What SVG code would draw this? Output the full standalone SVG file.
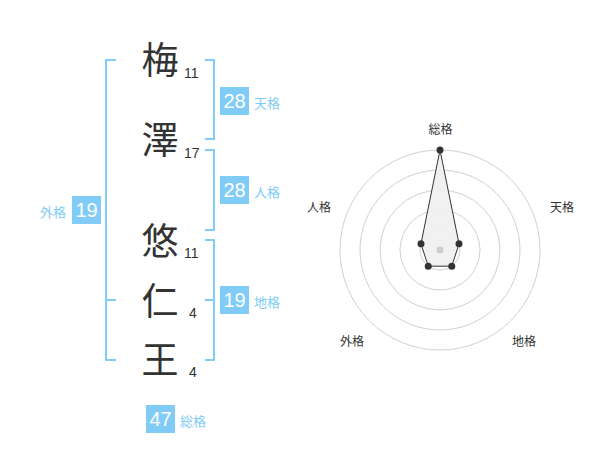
<svg xmlns="http://www.w3.org/2000/svg" width="600" height="470" viewBox="0 0 600 470">
<style>
.kanji{font-family:"Noto Sans CJK JP","Noto Sans CJK SC",sans-serif;font-size:37px;fill:#333;text-anchor:middle}
.num{font-family:"Liberation Sans",Arial,sans-serif;font-size:14px;fill:#333}
.br{fill:none;stroke:#80ccf7;stroke-width:2}
.box{fill:#80ccf7}
.bv{font-family:"Liberation Sans",Arial,sans-serif;font-size:20px;fill:#fff;text-anchor:middle}
.bl{font-family:"Noto Sans CJK JP",sans-serif;font-size:13px;fill:#80ccf7}
.grid{fill:none;stroke:#d0d0d0;stroke-width:1}
.rl{font-family:"Noto Sans CJK JP",sans-serif;font-size:12px;fill:#333;text-anchor:middle}
.dot{fill:#333}
</style>
<g id="connectors">
<path class="br" d="M116,60 H106 V360 H116 M106,300 H116"/>
<path class="br" d="M205,60 H214 V139 H205"/>
<path class="br" d="M205,150 H214 V230 H205"/>
<path class="br" d="M205,240 H214 V360 H205 M205,300 H214"/>
</g>
<g id="char1"><text class="kanji" x="160" y="74">梅</text><text class="num" x="184" y="78">11</text></g>
<g id="char2"><text class="kanji" x="160" y="154">澤</text><text class="num" x="184" y="158">17</text></g>
<g id="char3"><text class="kanji" x="160" y="255">悠</text><text class="num" x="184" y="258">11</text></g>
<g id="char4"><text class="kanji" x="160" y="315">仁</text><text class="num" x="189" y="318">4</text></g>
<g id="char5"><text class="kanji" x="160" y="374">王</text><text class="num" x="189" y="377">4</text></g>
<g id="tenkaku"><rect class="box" x="220" y="87" width="29" height="28"/><text class="bv" x="234.5" y="108">28</text><text class="bl" x="254" y="108">天格</text></g>
<g id="jinkaku"><rect class="box" x="220" y="176" width="29" height="28"/><text class="bv" x="234.5" y="197">28</text><text class="bl" x="254" y="197">人格</text></g>
<g id="chikaku"><rect class="box" x="220" y="286" width="29" height="28"/><text class="bv" x="234.5" y="307">19</text><text class="bl" x="254" y="307">地格</text></g>
<g id="gaikaku"><rect class="box" x="72" y="196" width="29" height="28"/><text class="bv" x="86.5" y="217">19</text><text class="bl" x="40" y="217">外格</text></g>
<g id="sokaku"><rect class="box" x="146" y="405" width="29" height="28"/><text class="bv" x="160.5" y="426">47</text><text class="bl" x="180" y="426">総格</text></g>
<g id="radar">
<circle class="grid" cx="440" cy="250" r="100"/>
<circle class="grid" cx="440" cy="250" r="80"/>
<circle class="grid" cx="440" cy="250" r="60"/>
<circle class="grid" cx="440" cy="250" r="40"/>
<circle class="grid" cx="440" cy="250" r="20"/>
<polygon points="440,150 459.02,243.82 451.76,266.18 428.24,266.18 420.98,243.82" fill="#efefef" fill-opacity="0.9" stroke="#333" stroke-width="1"/>
<circle cx="440" cy="250" r="3.5" fill="#ccc"/>
<circle class="dot" cx="440" cy="150" r="3.5"/>
<circle class="dot" cx="459.02" cy="243.82" r="3.5"/>
<circle class="dot" cx="451.76" cy="266.18" r="3.5"/>
<circle class="dot" cx="428.24" cy="266.18" r="3.5"/>
<circle class="dot" cx="420.98" cy="243.82" r="3.5"/>
<text class="rl" x="440.5" y="134">総格</text>
<text class="rl" x="562" y="212">天格</text>
<text class="rl" x="319" y="212">人格</text>
<text class="rl" x="352" y="346">外格</text>
<text class="rl" x="524" y="346">地格</text>
</g>
</svg>
